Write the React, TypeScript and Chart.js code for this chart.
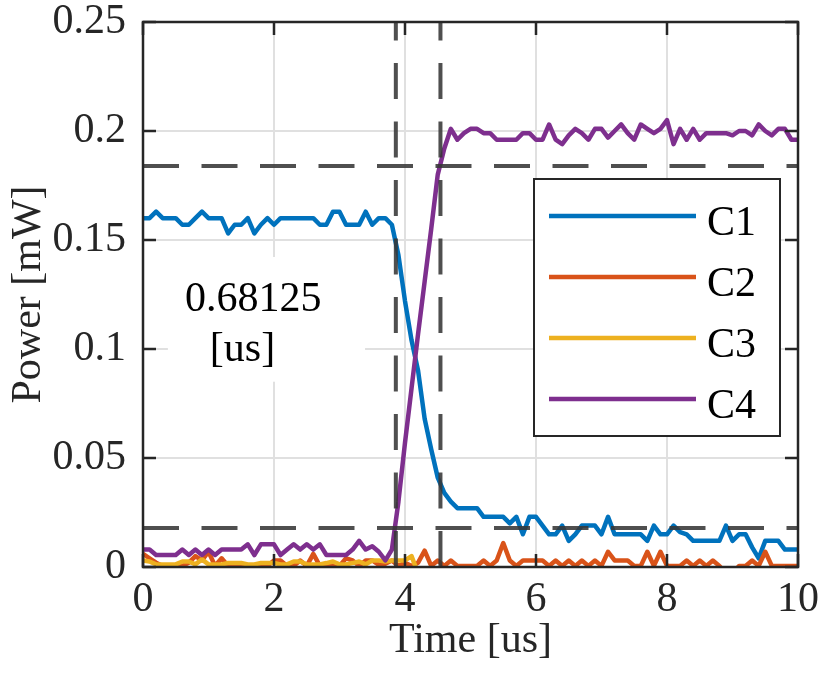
import React, { useEffect, useRef } from "react";
import { Chart, registerables } from "chart.js";

Chart.register(...registerables);

// sample times [us]
const TIME = [
  0, 0.1, 0.2, 0.3, 0.4, 0.5, 0.6, 0.7, 0.8, 0.9,
  1, 1.1, 1.2, 1.3, 1.4, 1.5, 1.6, 1.7, 1.8, 1.9,
  2, 2.1, 2.2, 2.3, 2.4, 2.5, 2.6, 2.7, 2.8, 2.9,
  3, 3.1, 3.2, 3.3, 3.4, 3.5, 3.6, 3.7, 3.8, 3.9,
  4, 4.1, 4.2, 4.3, 4.4, 4.5, 4.6, 4.7, 4.8, 4.9,
  5, 5.1, 5.2, 5.3, 5.4, 5.5, 5.6, 5.7, 5.8, 5.9,
  6, 6.1, 6.2, 6.3, 6.4, 6.5, 6.6, 6.7, 6.8, 6.9,
  7, 7.1, 7.2, 7.3, 7.4, 7.5, 7.6, 7.7, 7.8, 7.9,
  8, 8.1, 8.2, 8.3, 8.4, 8.5, 8.6, 8.7, 8.8, 8.9,
  9, 9.1, 9.2, 9.3, 9.4, 9.5, 9.6, 9.7, 9.8, 9.9,
  10,
];

// power [mW] per channel
const C1 = [
  0.160, 0.160, 0.163, 0.160, 0.160, 0.160, 0.157, 0.157, 0.160, 0.163,
  0.160, 0.160, 0.160, 0.153, 0.157, 0.157, 0.160, 0.153, 0.157, 0.160,
  0.157, 0.160, 0.160, 0.160, 0.160, 0.160, 0.160, 0.157, 0.157, 0.163,
  0.163, 0.157, 0.157, 0.157, 0.163, 0.157, 0.160, 0.160, 0.157, 0.143,
  0.122, 0.104, 0.090, 0.068, 0.054, 0.041, 0.034, 0.030, 0.027, 0.027,
  0.027, 0.027, 0.023, 0.023, 0.023, 0.023, 0.020, 0.023, 0.015, 0.023,
  0.023, 0.019, 0.015, 0.015, 0.019, 0.012, 0.015, 0.019, 0.019, 0.019,
  0.015, 0.023, 0.015, 0.015, 0.015, 0.015, 0.015, 0.012, 0.019, 0.015,
  0.015, 0.019, 0.016, 0.015, 0.012, 0.012, 0.012, 0.012, 0.012, 0.019,
  0.012, 0.015, 0.015, 0.009, 0.004, 0.012, 0.012, 0.012, 0.008, 0.008,
  0.008,
];

const C2 = [
  0.006, 0.004, 0.002, 0.0005, 0.0005, 0.0005, 0.0005, 0.002, 0.005, 0.003,
  0.007, 0.0005, 0.004, 0.0005, 0.0005, 0.0005, 0.0005, 0.0005, 0.0005, 0.0005,
  0.003, 0.003, 0.0005, 0.0005, 0.003, 0.0005, 0.006, 0.0005, 0.0005, 0.0005,
  0.0005, 0.004, 0.003, 0.0005, 0.003, 0.003, 0.001, 0.0015, 0.003, 0.0005,
  0.002, 0.0005, 0.002, 0.0075, 0.0005, 0.003, 0.0005, 0.003, 0.0005, 0.0005,
  0.0005, 0.0005, 0.003, 0.0005, 0.003, 0.011, 0.003, 0.0005, 0.003, 0.003,
  0.003, 0.003, 0.0005, 0.003, 0.0005, 0.003, 0.0005, 0.003, 0.0005, 0.003,
  0.0005, 0.007, 0.003, 0.003, 0.003, 0.0005, 0.0005, 0.007, 0.0005, 0.007,
  0.0005, 0.0005, 0.0005, 0.003, 0.0005, 0.003, 0.0005, 0.003, 0.0005, -0.003,
  -0.003, 0.0005, 0.0005, 0.003, 0.0005, 0.007, 0.0005, 0.0005, 0.0005, 0.0005,
  0.0005,
];

const C3 = [
  0.003, 0.0025, 0.0012, 0.0012, 0.0012, 0.0012, 0.0025, 0.0025, 0.0012, 0.0035,
  0.0012, 0.0012, 0.0012, 0.0018, 0.0018, 0.0018, 0.0012, 0.0012, 0.0018, 0.0018,
  0.0018, 0.0012, 0.0012, 0.0025, 0.0025, 0.0012, 0.0012, 0.0012, 0.0018, 0.0025,
  0.0012, 0.0012, 0.0018, 0.0025, 0.0012, 0.003, 0.003, 0.0025, 0.003, 0.003,
  0.003, 0.005, -0.003, -0.003, -0.003, -0.003, -0.003, -0.003, -0.003, -0.003,
  -0.003, -0.003, -0.003, -0.003, -0.003, -0.003, -0.003, -0.003, -0.003, -0.003,
  -0.003, -0.003, -0.003, -0.003, -0.003, -0.003, -0.003, -0.003, -0.003, -0.003,
  -0.003, -0.003, -0.003, -0.003, -0.003, -0.003, -0.003, -0.003, -0.003, -0.003,
  -0.003, -0.003, -0.003, -0.003, -0.003, -0.003, -0.003, -0.003, -0.003, -0.003,
  -0.003, -0.003, -0.003, -0.003, -0.003, -0.003, -0.003, -0.003, -0.003, -0.003,
  -0.003,
];

const C4 = [
  0.008, 0.008, 0.0055, 0.0055, 0.0055, 0.0055, 0.008, 0.0055, 0.008, 0.0055,
  0.008, 0.0055, 0.008, 0.008, 0.008, 0.008, 0.0104, 0.0055, 0.0104, 0.0104,
  0.0104, 0.0055, 0.008, 0.0104, 0.008, 0.0104, 0.008, 0.0104, 0.0055, 0.0055,
  0.0055, 0.0055, 0.008, 0.012, 0.008, 0.0095, 0.007, 0.003, 0.008, 0.030,
  0.057, 0.082, 0.107, 0.131, 0.155, 0.180, 0.192, 0.201, 0.196, 0.199,
  0.201, 0.201, 0.199, 0.199, 0.196, 0.196, 0.196, 0.196, 0.199, 0.199,
  0.196, 0.196, 0.203, 0.196, 0.194, 0.198, 0.201, 0.199, 0.196, 0.201,
  0.201, 0.197, 0.200, 0.203, 0.199, 0.196, 0.203, 0.201, 0.199, 0.201,
  0.205, 0.194, 0.201, 0.196, 0.201, 0.196, 0.199, 0.199, 0.199, 0.199,
  0.198, 0.200, 0.200, 0.198, 0.203, 0.200, 0.198, 0.201, 0.201, 0.196,
  0.196,
];

const SERIES_NAMES = ["C1", "C2", "C3", "C4"];
const SERIES_COLORS = ["#0072BD", "#D95319", "#EDB120", "#7E2F8E"];

const X_TICKS = [0, 2, 4, 6, 8, 10];
const Y_TICKS = [0, 0.05, 0.1, 0.15, 0.2, 0.25];

// rise time markers (10% / 90% levels and crossing times)
const RISE_START = 3.86;
const RISE_END = 4.54125;
const LEVEL_LOW = 0.0179;
const LEVEL_HIGH = 0.184;
const RISE_LABEL = ["0.68125", "[us]"];

const FONT = "'Liberation Serif', 'Times New Roman', serif";
const AXIS_COLOR = "#262626";

const matlabAxes = {
  id: "matlabAxes",
  beforeDatasetsDraw(chart: any) {
    const { ctx, scales } = chart;
    const x = scales.x;
    const y = scales.y;
    // white background of the text annotation
    ctx.save();
    ctx.fillStyle = "#fff";
    const l = x.getPixelForValue(0.38);
    const r = x.getPixelForValue(3.39);
    const t = y.getPixelForValue(0.1422);
    const b = y.getPixelForValue(0.085);
    ctx.fillRect(l, t, r - l, b - t);
    ctx.restore();
  },
  afterDatasetsDraw(chart: any) {
    const { ctx, chartArea, scales } = chart;
    const x = scales.x;
    const y = scales.y;
    const { left, right, top, bottom } = chartArea;

    // dashed marker lines
    ctx.save();
    ctx.beginPath();
    ctx.rect(left, top, right - left, bottom - top);
    ctx.clip();
    ctx.strokeStyle = "rgba(55,55,55,0.88)";
    ctx.lineWidth = 4;
    ctx.setLineDash([36, 22.5]);
    [LEVEL_HIGH, LEVEL_LOW].forEach((v) => {
      const py = y.getPixelForValue(v);
      ctx.beginPath();
      ctx.moveTo(left, py);
      ctx.lineTo(right, py);
      ctx.stroke();
    });
    [RISE_START, RISE_END].forEach((v) => {
      const px = x.getPixelForValue(v);
      ctx.beginPath();
      ctx.moveTo(px, bottom);
      ctx.lineTo(px, top);
      ctx.stroke();
    });
    ctx.restore();

    // axes box with inward ticks
    ctx.save();
    ctx.strokeStyle = AXIS_COLOR;
    ctx.lineWidth = 2.5;
    ctx.strokeRect(left, top, right - left, bottom - top);
    const tl = 13;
    ctx.beginPath();
    X_TICKS.forEach((v) => {
      const px = x.getPixelForValue(v);
      ctx.moveTo(px, bottom);
      ctx.lineTo(px, bottom - tl);
      ctx.moveTo(px, top);
      ctx.lineTo(px, top + tl);
    });
    Y_TICKS.forEach((v) => {
      const py = y.getPixelForValue(v);
      ctx.moveTo(left, py);
      ctx.lineTo(left + tl, py);
      ctx.moveTo(right, py);
      ctx.lineTo(right - tl, py);
    });
    ctx.stroke();
    ctx.restore();

    // annotation text
    ctx.save();
    ctx.font = `42px ${FONT}`;
    ctx.fillStyle = "#000";
    ctx.textAlign = "left";
    ctx.textBaseline = "alphabetic";
    ctx.fillText(RISE_LABEL[0], x.getPixelForValue(0.64), y.getPixelForValue(0.1174));
    ctx.fillText(RISE_LABEL[1], x.getPixelForValue(1.02), y.getPixelForValue(0.0945));
    ctx.restore();

    // legend
    ctx.save();
    const lx = 534;
    const ly = 179;
    const lw = 246;
    const lh = 257;
    ctx.fillStyle = "#fff";
    ctx.fillRect(lx, ly, lw, lh);
    ctx.strokeStyle = AXIS_COLOR;
    ctx.lineWidth = 2;
    ctx.strokeRect(lx, ly, lw, lh);
    ctx.font = `42px ${FONT}`;
    ctx.textAlign = "left";
    ctx.textBaseline = "alphabetic";
    chart.data.datasets.forEach((ds: any, i: number) => {
      const cy = 216 + i * 61;
      ctx.strokeStyle = ds.borderColor;
      ctx.lineWidth = 4.5;
      ctx.beginPath();
      ctx.moveTo(549, cy);
      ctx.lineTo(696, cy);
      ctx.stroke();
      ctx.fillStyle = "#000";
      ctx.fillText(ds.label, 707, cy + 19);
    });
    ctx.restore();
  },
};

export default function App() {
  const canvasRef = useRef<HTMLCanvasElement | null>(null);

  useEffect(() => {
    document.body.style.margin = "0";
    if (!canvasRef.current) return;

    const channels = [C1, C2, C3, C4];
    const chart = new Chart(canvasRef.current, {
      type: "line",
      data: {
        datasets: channels.map((vals, i) => ({
          label: SERIES_NAMES[i],
          data: TIME.map((t, k) => ({ x: t, y: vals[k] })),
          borderColor: SERIES_COLORS[i],
          backgroundColor: SERIES_COLORS[i],
          borderWidth: 4.5,
          pointRadius: 0,
          tension: 0,
          borderJoinStyle: "round" as const,
          fill: false,
          // later channels on top, like the plot order
          order: channels.length - 1 - i,
        })),
      },
      options: {
        responsive: false,
        animation: false,
        layout: { padding: { top: 22, right: 34, left: 0, bottom: 0 } },
        plugins: {
          legend: { display: false },
          tooltip: { enabled: false },
        },
        scales: {
          x: {
            type: "linear",
            min: 0,
            max: 10,
            afterBuildTicks: (s: any) => {
              s.ticks = X_TICKS.map((v) => ({ value: v }));
            },
            afterFit: (s: any) => {
              s.height = 107;
              s.paddingLeft = 0;
              s.paddingRight = 0;
            },
            grid: { color: "#e0e0e0", lineWidth: 2, drawTicks: false },
            border: { display: false },
            ticks: {
              font: { family: FONT, size: 42 },
              color: AXIS_COLOR,
              padding: 8,
              maxRotation: 0,
              autoSkip: false,
              callback: (v: any) => String(v),
            },
            title: {
              display: true,
              text: "Time [us]",
              font: { family: FONT, size: 42 },
              color: AXIS_COLOR,
              padding: { top: 0, bottom: 8 },
            },
          },
          y: {
            type: "linear",
            min: 0,
            max: 0.25,
            afterBuildTicks: (s: any) => {
              s.ticks = Y_TICKS.map((v) => ({ value: v }));
            },
            afterFit: (s: any) => {
              s.width = 143;
              s.paddingTop = 0;
              s.paddingBottom = 0;
            },
            grid: { color: "#e0e0e0", lineWidth: 2, drawTicks: false },
            border: { display: false },
            ticks: {
              font: { family: FONT, size: 42 },
              color: AXIS_COLOR,
              padding: 17,
              autoSkip: false,
              callback: (v: any) => String(v),
            },
            title: {
              display: true,
              text: "Power [mW]",
              font: { family: FONT, size: 42 },
              color: AXIS_COLOR,
              padding: { top: 4, bottom: 0 },
            },
          },
        },
      },
      plugins: [matlabAxes],
    });

    return () => {
      chart.destroy();
    };
  }, []);

  return (
    <div style={{ width: 832, height: 674, background: "#fff" }}>
      <canvas ref={canvasRef} width={832} height={674} />
    </div>
  );
}
